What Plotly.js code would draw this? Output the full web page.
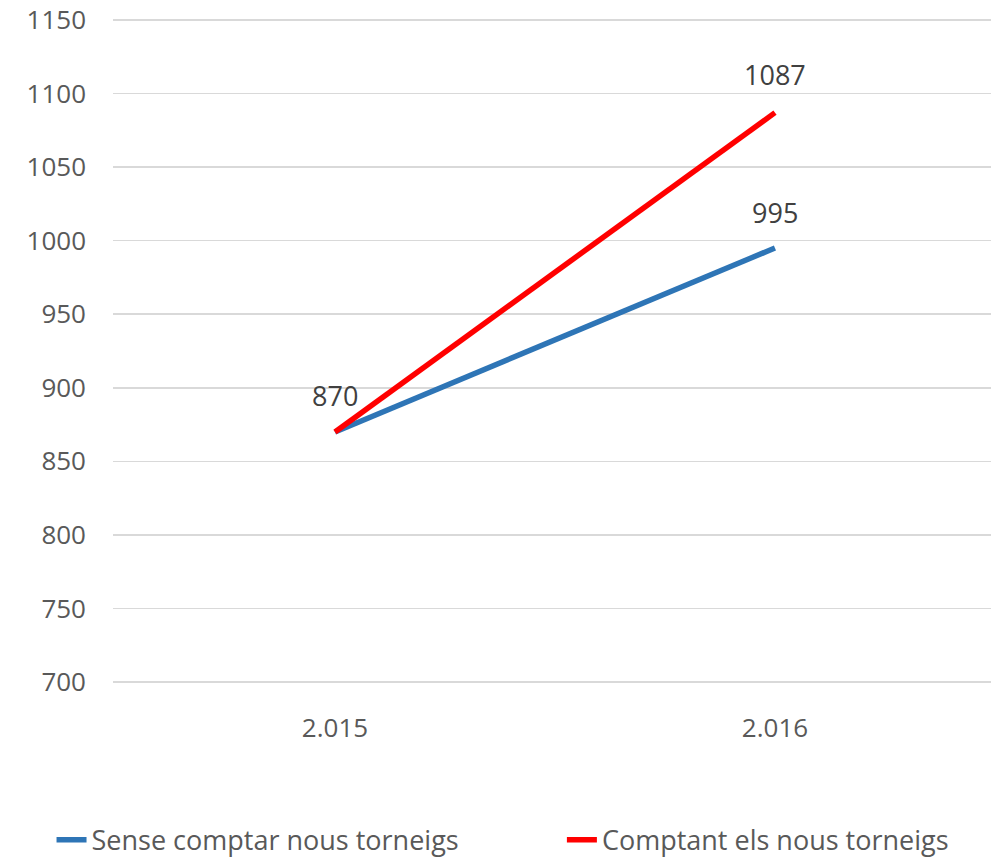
<!DOCTYPE html>
<html><head><meta charset="utf-8">
<script src="https://cdn.plot.ly/plotly-3.0.1.min.js"></script>
<style>html,body{margin:0;padding:0;background:#fff}#c{width:991px;height:859px}</style>
</head><body><div id="c"></div>
<script>
const categories = ["2.015", "2.016"];
const seriesNames = ["Sense comptar nous torneigs", "Comptant els nous torneigs"];
const senseValues = [870, 995];
const comptantValues = [870, 1087];
const yTicks = [700, 750, 800, 850, 900, 950, 1000, 1050, 1100, 1150];

const font = "Open Sans, Noto Sans, sans-serif";
const grey = "#595959";
const xIdx = categories.map((c, i) => i);

const traces = [
  {x: xIdx, y: senseValues, name: seriesNames[0], mode: "lines", line: {color: "#2E75B6", width: 5.5}, legend: "legend"},
  {x: xIdx, y: comptantValues, name: seriesNames[1], mode: "lines", line: {color: "#FF0000", width: 5.5}, legend: "legend2"}
];

const lblFont = {family: font, size: 27, color: "#404040"};
const annotations = [];
senseValues.forEach((v, i) => annotations.push({x: i, y: v, text: String(v), showarrow: false, yshift: 36, font: lblFont}));
comptantValues.forEach((v, i) => { if (v !== senseValues[i]) annotations.push({x: i, y: v, text: String(v), showarrow: false, yshift: 38, font: lblFont}); });

const legFont = {family: font, size: 27, color: grey};
const layout = {
  width: 991, height: 859,
  margin: {l: 113, r: 0, t: 17, b: 174, autoexpand: false},
  paper_bgcolor: "#fff", plot_bgcolor: "#fff",
  font: {family: font, color: grey, size: 26},
  showlegend: true,
  legend: {orientation: "h", yref: "container", xref: "container", x: 0.052, xanchor: "left", y: 0.022, yanchor: "middle", font: legFont, bgcolor: "rgba(0,0,0,0)"},
  legend2: {orientation: "h", yref: "container", xref: "container", x: 0.567, xanchor: "left", y: 0.022, yanchor: "middle", font: legFont, bgcolor: "rgba(0,0,0,0)"},
  xaxis: {range: [-0.5045, 1.491], tickmode: "array", tickvals: xIdx, ticktext: categories, showgrid: false, zeroline: false, showline: false, ticks: "", ticklabelstandoff: 25, tickfont: {family: font, size: 26, color: grey}},
  yaxis: {range: [698, 1152], tickmode: "array", tickvals: yTicks, showgrid: true, gridcolor: "#D9D9D9", gridwidth: 1.5, zeroline: false, showline: false, ticks: "", ticklabelstandoff: 26, tickfont: {family: font, size: 26, color: grey}},
  annotations: annotations
};
Plotly.newPlot("c", traces, layout, {displayModeBar: false, staticPlot: true});
</script></body></html>
